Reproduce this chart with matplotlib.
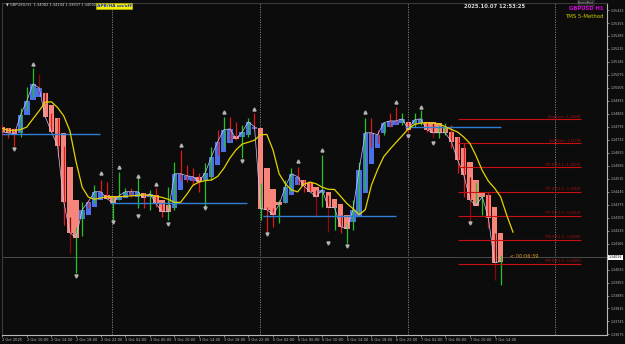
import matplotlib.pyplot as plt
from matplotlib.transforms import blended_transform_factory

# Heiken Ashi bodies (GBPUSD H1), bar 0 = 2 Oct 06:00
ha_open = [1.34795, 1.34790, 1.34784, 1.34763, 1.34860, 1.34941, 1.34957, 1.34978, 1.34914, 1.34844,
           1.34763, 1.34580, 1.34402, 1.34300, 1.34321, 1.34364, 1.34402, 1.34429, 1.34424, 1.34402,
           1.34413, 1.34429, 1.34418, 1.34440, 1.34418, 1.34429, 1.34402, 1.34375, 1.34359, 1.34456,
           1.34510, 1.34504, 1.34526, 1.34510, 1.34526, 1.34591, 1.34661, 1.34709, 1.34747, 1.34741,
           1.34752, 1.34784, 1.34790, 1.34575, 1.34461, 1.34391, 1.34386, 1.34429, 1.34483, 1.34510,
           1.34494, 1.34472, 1.34440, 1.34445, 1.34407, 1.34380, 1.34321, 1.34284, 1.34310, 1.34440,
           1.34596, 1.34682, 1.34763, 1.34795, 1.34806, 1.34817, 1.34822, 1.34811, 1.34817, 1.34822,
           1.34822, 1.34817, 1.34790, 1.34768, 1.34741, 1.34682, 1.34607, 1.34510, 1.34445, 1.34429,
           1.34364, 1.34224]
ha_close = [1.34768, 1.34763, 1.34757, 1.34860, 1.34935, 1.35027, 1.35005, 1.34849, 1.34768, 1.34693,
            1.34391, 1.34224, 1.34197, 1.34348, 1.34391, 1.34445, 1.34445, 1.34407, 1.34386, 1.34424,
            1.34445, 1.34445, 1.34445, 1.34413, 1.34434, 1.34380, 1.34337, 1.34337, 1.34542, 1.34542,
            1.34531, 1.34526, 1.34499, 1.34548, 1.34634, 1.34714, 1.34779, 1.34784, 1.34731, 1.34768,
            1.34822, 1.34795, 1.34354, 1.34348, 1.34321, 1.34375, 1.34472, 1.34542, 1.34526, 1.34477,
            1.34445, 1.34418, 1.34456, 1.34359, 1.34359, 1.34256, 1.34246, 1.34348, 1.34564, 1.34763,
            1.34763, 1.34752, 1.34817, 1.34827, 1.34827, 1.34838, 1.34779, 1.34833, 1.34838, 1.34779,
            1.34763, 1.34763, 1.34763, 1.34714, 1.34617, 1.34537, 1.34402, 1.34370, 1.34418, 1.34305,
            1.34062, 1.34068]

# real H1 bars: high, low and direction (g bull, r bear, d bear dark)
bar_high = [1.34806, 1.34790, 1.34790, 1.34897, 1.35011, 1.35113, 1.35081, 1.34984, 1.34871, 1.34844,
            1.34693, 1.34310, 1.34256, 1.34391, 1.34402, 1.34483, 1.34510, 1.34499, 1.34418, 1.34553,
            1.34467, 1.34467, 1.34521, 1.34440, 1.34456, 1.34467, 1.34386, 1.34472, 1.34607, 1.34671,
            1.34591, 1.34575, 1.34548, 1.34601, 1.34687, 1.34779, 1.34849, 1.34849, 1.34822, 1.34806,
            1.34844, 1.34871, 1.34494, 1.34364, 1.34359, 1.34402, 1.34510, 1.34575, 1.34580, 1.34510,
            1.34499, 1.34456, 1.34644, 1.34429, 1.34364, 1.34321, 1.34278, 1.34402, 1.34607, 1.34844,
            1.34844, 1.34779, 1.34822, 1.34871, 1.34903, 1.34871, 1.34822, 1.34871, 1.34887, 1.34822,
            1.34817, 1.34806, 1.34817, 1.34806, 1.34741, 1.34709, 1.34526, 1.34499, 1.34429, 1.34445,
            1.34224, 1.34106]
bar_low = [1.34752, 1.34736, 1.34693, 1.34741, 1.34887, 1.34957, 1.34978, 1.34924, 1.34768, 1.34634,
           1.34267, 1.34117, 1.34009, 1.34208, 1.34359, 1.34386, 1.34440, 1.34413, 1.34294, 1.34402,
           1.34418, 1.34418, 1.34359, 1.34359, 1.34348, 1.34364, 1.34310, 1.34294, 1.34348, 1.34510,
           1.34499, 1.34483, 1.34445, 1.34364, 1.34510, 1.34644, 1.34687, 1.34725, 1.34725, 1.34628,
           1.34741, 1.34779, 1.34294, 1.34213, 1.34256, 1.34278, 1.34386, 1.34445, 1.34483, 1.34445,
           1.34445, 1.34310, 1.34364, 1.34230, 1.34240, 1.34224, 1.34170, 1.34240, 1.34332, 1.34456,
           1.34687, 1.34709, 1.34752, 1.34795, 1.34817, 1.34806, 1.34763, 1.34795, 1.34806, 1.34768,
           1.34736, 1.34736, 1.34752, 1.34682, 1.34548, 1.34418, 1.34284, 1.34386, 1.34321, 1.34251,
           1.33971, 1.33944]
bar_dir = ("rrrgggddrr" "rdggrgrrgg" "grgrgrrggr" "rrrggrgrrg" "grgrrgggrr"
           "rdgdgrgggg" "rrgrrgrggr" "dggrrrdggr" "dg")

# slow moving average (yellow), runs 2 bars past the last candle
ma_slow = [1.34786, 1.34776, 1.34776, 1.34780, 1.34794, 1.34838, 1.34881, 1.34928, 1.34930, 1.34899,
           1.34854, 1.34774, 1.34607, 1.34469, 1.34416, 1.34404, 1.34411, 1.34418, 1.34418, 1.34418,
           1.34420, 1.34423, 1.34425, 1.34428, 1.34426, 1.34421, 1.34414, 1.34404, 1.34387, 1.34388,
           1.34431, 1.34480, 1.34497, 1.34505, 1.34508, 1.34527, 1.34570, 1.34626, 1.34671, 1.34702,
           1.34712, 1.34723, 1.34752, 1.34754, 1.34671, 1.34542, 1.34488, 1.34455, 1.34444, 1.34485,
           1.34497, 1.34488, 1.34469, 1.34458, 1.34457, 1.34420, 1.34382, 1.34354, 1.34321, 1.34348,
           1.34480, 1.34564, 1.34634, 1.34674, 1.34711, 1.34747, 1.34784, 1.34808, 1.34815, 1.34817,
           1.34815, 1.34811, 1.34796, 1.34781, 1.34767, 1.34740, 1.34706, 1.34639, 1.34560, 1.34502,
           1.34465, 1.34417, 1.34317, 1.34227]

# fractal arrows
up_idx = [5, 16, 19, 22, 25, 29, 36, 41, 48, 52, 59, 64, 68]
up_price = [1.35129, 1.34542, 1.34575, 1.34526, 1.34483, 1.34693, 1.34871, 1.34887, 1.34607, 1.34666,
            1.34871, 1.34924, 1.34897]
dn_idx = [2, 12, 18, 22, 27, 33, 39, 43, 53, 56, 66, 70, 76]
dn_price = [1.34677, 1.33993, 1.34284, 1.34316, 1.34273, 1.34359, 1.34617, 1.34219, 1.34170, 1.34154,
            1.34747, 1.34714, 1.34278]

# support / resistance segments: start bar, end bar, price
sr_start = [0, 17.5, 42.4, 65.5]
sr_end = [15.9, 39.8, 64, 81]
sr_price = [1.34757, 1.34386, 1.34316, 1.34795]

# trade levels
lvl_names = ["Stop Loss", "Sell Entry", "TP1 R:R 1:1", "TP2 R:R 1:2", "TP3 R:R 1:3", "TP4 R:R 1:4", "TP5 R:R 1:5"]
lvl_price = [1.34836, 1.34706, 1.34576, 1.34446, 1.34316, 1.34186, 1.34056]

day_sep = [18, 42, 66, 90]
time_idx = list(range(0, 81, 4))
time_labels = ["2 Oct 2025", "2 Oct 10:00", "2 Oct 14:00", "2 Oct 18:00", "2 Oct 22:00", "3 Oct 02:00",
               "3 Oct 06:00", "3 Oct 10:00", "3 Oct 14:00", "3 Oct 18:00", "3 Oct 22:00", "6 Oct 02:00",
               "6 Oct 06:00", "6 Oct 10:00", "6 Oct 14:00", "6 Oct 18:00", "6 Oct 22:00", "7 Oct 02:00",
               "7 Oct 06:00", "7 Oct 10:00", "7 Oct 14:00"]
price_ticks = [1.35425, 1.35355, 1.35285, 1.35215, 1.35145, 1.35075, 1.35005, 1.34935, 1.34865, 1.34795,
               1.34725, 1.34655, 1.34585, 1.34515, 1.34445, 1.34375, 1.34305, 1.34235, 1.34165,
               1.34025, 1.33955, 1.33885, 1.33815, 1.33745, 1.33675]
last_price = 1.34092

BG = '#0c0c0c'
fig = plt.figure(figsize=(6.25, 3.44), dpi=100, facecolor=BG)
ax = fig.add_axes([2 / 625, 9 / 344, 605 / 625, 332 / 344], facecolor=BG)

n = len(ha_open)
idx = list(range(n))

for d in day_sep:
    ax.axvline(d - 0.1, color='#8a8a8a', lw=0.6, ls=(0, (1.5, 1.5)), zorder=1)
ax.axhline(last_price, color='#4a4a4a', lw=0.7, zorder=1)

heights = [c - o for o, c in zip(ha_open, ha_close)]
ha_cols = ['#4a6fe6' if c >= o else '#f7857a' for o, c in zip(ha_open, ha_close)]
ax.bar(idx, heights, bottom=ha_open, width=0.88, color=ha_cols, linewidth=0, zorder=2)

wick_map = {'g': '#22c322', 'r': '#e01818', 'd': '#8c0a0a'}
ax.vlines(idx, bar_low, bar_high, colors=[wick_map[c] for c in bar_dir], lw=0.9, zorder=3)

ax.plot(idx, ha_close, color='#c9c9f5', lw=0.5, zorder=4)
ax.plot(range(len(ma_slow)), ma_slow, color='#e3d300', lw=0.9, zorder=5)

ax.hlines(sr_price, sr_start, sr_end, colors='#2f7fd6', lw=1.0, zorder=4)

ax.hlines(lvl_price, 74, 94, colors='#c81010', lw=0.8, zorder=4)
for name, p in zip(lvl_names, lvl_price):
    ax.text(94, p + 0.00003, f"{name} : {p:.5f}", color='#b01010', fontsize=2.3,
            ha='right', va='bottom', zorder=6)

ax.plot(up_idx, [p + 0.00004 for p in up_price], ls='none', marker='^', ms=2.2,
        color='#b4b4b4', zorder=6)
ax.plot(dn_idx, [p - 0.00004 for p in dn_price], ls='none', marker='v', ms=2.2,
        color='#b4b4b4', zorder=6)

ax.text(82.5, last_price + 0.00002, "< 00:06:39", color='#e09a20', fontsize=3.6,
        ha='left', va='center', zorder=6)

ax.set_xlim(-0.03, 98.28)
ax.set_ylim(1.33675 - 0.00003, 1.35463)

ax.yaxis.tick_right()
ax.set_yticks(price_ticks)
ax.set_yticklabels([f"{p:.5f}" for p in price_ticks])
ax.set_xticks(time_idx)
ax.set_xticklabels(time_labels, ha='left')
ax.tick_params(axis='both', colors='#b8b8b8', labelsize=2.6, length=1.5, width=0.5, pad=0.8)
ax.tick_params(axis='y', labelsize=2.3)
for s in ['left', 'top']:
    ax.spines[s].set_color('#3a3a3a')
for s in ['right', 'bottom']:
    ax.spines[s].set_color('#b8b8b8')
for s in ax.spines.values():
    s.set_linewidth(0.8)

tr = blended_transform_factory(ax.transAxes, ax.transData)
ax.text(1.003, last_price, f"{last_price:.5f}", transform=tr, fontsize=2.3, color='black',
        ha='left', va='center', bbox=dict(boxstyle='square,pad=0.15', fc='white', ec='none'),
        clip_on=False, zorder=7)

fig.text(6 / 625, 1 - 5 / 344, "▼ GBPUSD,H1  1.34082 1.34104 1.33937 1.34092", color='#d0d0d0',
         fontsize=2.6, ha='left', va='center')
fig.text(114 / 625, 1 - 6 / 344, "APB/HA on/off", color='#1a2fd0', fontsize=3.2, fontweight='bold',
         ha='center', va='center', bbox=dict(boxstyle='square,pad=0.2', fc='#f5f000', ec='#c8c000', lw=0.4))
fig.text(495 / 625, 1 - 6 / 344, "2025.10.07 12:53:25", color='#d8d8d8', fontsize=3.8, fontweight='bold',
         ha='center', va='center')
fig.text(586 / 625, 1 - 3 / 344, "ScreenShot", color='#c8c8c8', fontsize=2.0, ha='center', va='center',
         bbox=dict(boxstyle='square,pad=0.2', fc='#1c1c1c', ec='#6a6a6a', lw=0.3))
fig.text(604 / 625, 1 - 8 / 344, "GBPUSD H1", color='#e000e0', fontsize=3.8, fontweight='bold',
         ha='right', va='center')
fig.text(604 / 625, 1 - 17 / 344, "TMS 5-Method", color='#c8c800', fontsize=3.9,
         ha='right', va='center')

fig.savefig('out.png', dpi=100, facecolor=BG)
